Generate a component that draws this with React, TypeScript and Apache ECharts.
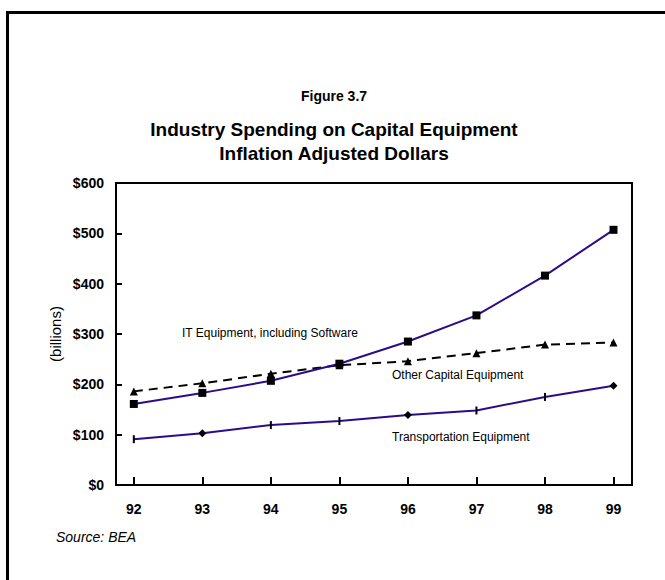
import React, { useEffect, useRef } from "react";
import * as echarts from "echarts";

const years = [92, 93, 94, 95, 96, 97, 98, 99];
const itSpending = [161, 183, 207, 241, 285, 337, 416, 507];
const otherSpending = [186, 202, 221, 238, 246, 262, 279, 283];
const transportSpending = [91, 103, 119, 127, 139, 148, 175, 197];
const transportMarkers = ["tick", "diamond", "tick", "tick", "diamond", "tick", "tick", "diamond"];
const yTicks = [0, 100, 200, 300, 400, 500, 600];

const FONT = "'Liberation Sans', Arial, sans-serif";
const PURPLE = "#2B0C8A";

export default function App() {
  const ref = useRef<HTMLDivElement>(null);
  useEffect(() => {
    if (!ref.current) return;
    const chart = echarts.init(ref.current, undefined, { renderer: "svg" });
    const pair = (vals: number[]) => years.map((y, i) => [y, vals[i]]);
    chart.setOption({
      animation: false,
      backgroundColor: "#ffffff",
      textStyle: { fontFamily: FONT },
      grid: {
        left: 116,
        top: 183,
        right: 33,
        bottom: 95,
        show: true,
        borderColor: "#000",
        borderWidth: 2,
        backgroundColor: "transparent",
      },
      xAxis: {
        type: "value",
        min: 91.74,
        max: 99.27,
        axisLine: { show: true, lineStyle: { color: "#000", width: 2 } },
        axisTick: { show: true, inside: true, length: 8, customValues: years, lineStyle: { color: "#000", width: 2 } },
        axisLabel: {
          customValues: years,
          color: "#000",
          fontWeight: "bold",
          fontSize: 14,
          fontFamily: FONT,
          margin: 17,
          formatter: (v: number) => String(Math.round(v)),
        },
        splitLine: { show: false },
      },
      yAxis: {
        type: "value",
        min: yTicks[0],
        max: yTicks[yTicks.length - 1],
        interval: 100,
        axisLine: { show: true, lineStyle: { color: "#000", width: 2 } },
        axisTick: { show: true, inside: true, length: 6, lineStyle: { color: "#000", width: 2 } },
        axisLabel: {
          color: "#000",
          fontWeight: "bold",
          fontSize: 14,
          fontFamily: FONT,
          margin: 12,
          formatter: (v: number) => "$" + v,
        },
        splitLine: { show: false },
      },
      series: [
        {
          name: "IT Equipment, including Software",
          type: "line",
          data: pair(itSpending),
          symbol: "rect",
          symbolSize: 8,
          itemStyle: { color: "#000" },
          lineStyle: { color: PURPLE, width: 2 },
          z: 3,
        },
        {
          name: "Other Capital Equipment",
          type: "line",
          data: pair(otherSpending),
          symbol: "triangle",
          symbolSize: 8,
          itemStyle: { color: "#000" },
          lineStyle: { color: "#000", width: 2, type: [9, 6] },
          z: 2,
        },
        {
          name: "Transportation Equipment",
          type: "line",
          data: years.map((y, i) => ({
            value: [y, transportSpending[i]],
            symbol: transportMarkers[i] === "diamond" ? "diamond" : "rect",
            symbolSize: transportMarkers[i] === "diamond" ? 8 : [2, 8],
          })),
          itemStyle: { color: "#000" },
          lineStyle: { color: PURPLE, width: 2 },
          z: 2,
        },
      ],
      graphic: [
        {
          type: "rect",
          shape: { x: 7.5, y: 12.5, width: 900, height: 900 },
          style: { fill: "none", stroke: "#000", lineWidth: 3 },
          silent: true,
        },
        {
          type: "text",
          x: 334,
          y: 96,
          style: { text: "Figure 3.7", fontSize: 14, fontWeight: "bold", fontFamily: FONT, fill: "#000", align: "center", verticalAlign: "middle" },
        },
        {
          type: "text",
          x: 334,
          y: 129,
          style: { text: "Industry Spending on Capital Equipment", fontSize: 19, fontWeight: "bold", fontFamily: FONT, fill: "#000", align: "center", verticalAlign: "middle" },
        },
        {
          type: "text",
          x: 334,
          y: 153,
          style: { text: "Inflation Adjusted Dollars", fontSize: 19, fontWeight: "bold", fontFamily: FONT, fill: "#000", align: "center", verticalAlign: "middle" },
        },
        {
          type: "text",
          x: 55,
          y: 334,
          rotation: Math.PI / 2,
          style: { text: "(billions)", fontSize: 15, fontFamily: FONT, fill: "#000", align: "center", verticalAlign: "middle" },
        },
        {
          type: "text",
          x: 182,
          y: 333,
          style: { text: "IT Equipment, including Software", fontSize: 12, fontFamily: FONT, fill: "#000", align: "left", verticalAlign: "middle" },
        },
        {
          type: "text",
          x: 392,
          y: 375,
          style: { text: "Other Capital Equipment", fontSize: 12, fontFamily: FONT, fill: "#000", align: "left", verticalAlign: "middle" },
        },
        {
          type: "text",
          x: 392,
          y: 437,
          style: { text: "Transportation Equipment", fontSize: 12, fontFamily: FONT, fill: "#000", align: "left", verticalAlign: "middle" },
        },
        {
          type: "text",
          x: 56,
          y: 537,
          style: { text: "Source: BEA", fontSize: 14, fontStyle: "italic", fontFamily: FONT, fill: "#000", align: "left", verticalAlign: "middle" },
        },
      ],
    });
    return () => chart.dispose();
  }, []);
  return <div ref={ref} style={{ position: "fixed", left: 0, top: 0, width: 665, height: 580 }} />;
}
